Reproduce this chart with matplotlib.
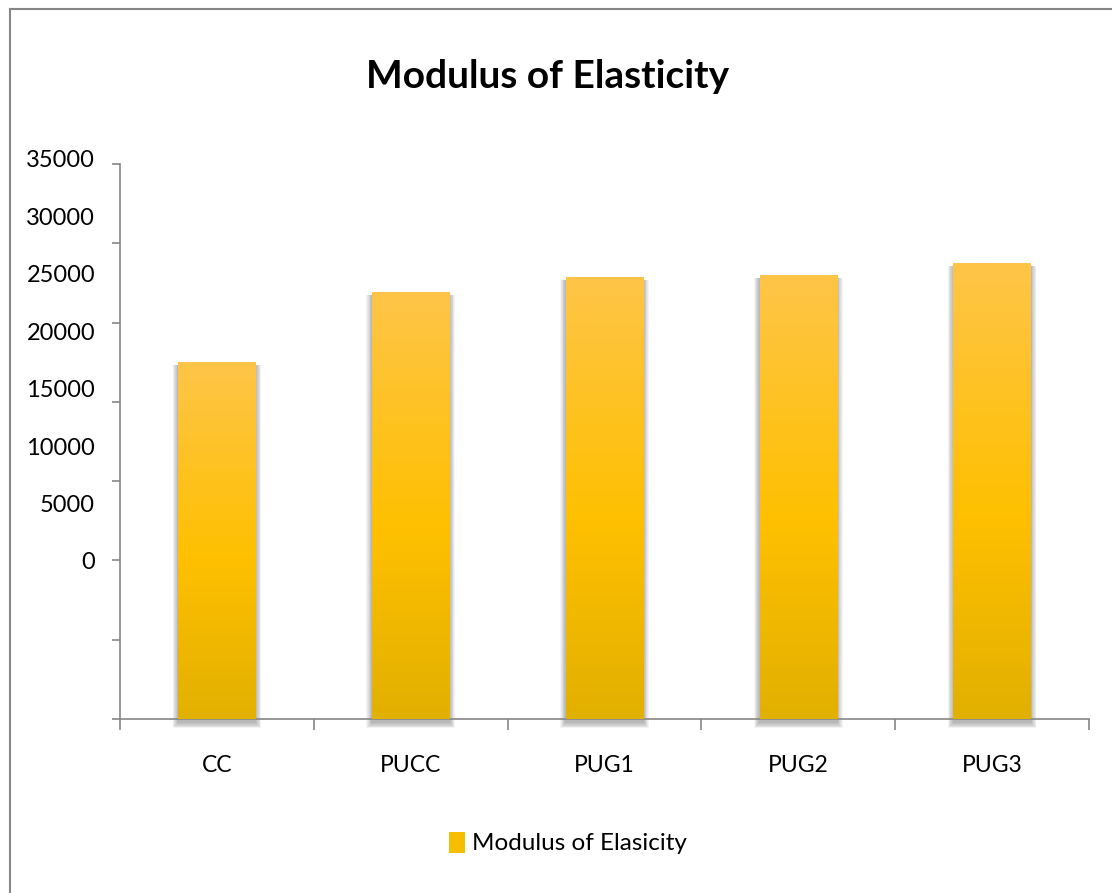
import numpy as np
import matplotlib
matplotlib.use("Agg")
import matplotlib.pyplot as plt
from matplotlib.patches import Rectangle, Patch
from matplotlib.colors import LinearSegmentedColormap
from matplotlib.lines import Line2D

# Modulus of elasticity per mix
categories = ["CC", "PUCC", "PUG1", "PUG2", "PUG3"]
modulus = [22500, 26900, 27900, 28000, 28750]
tick_values = [0, 5000, 10000, 15000, 20000, 25000, 30000, 35000]
tick_labels = ["0", "5000", "10000", "15000", "20000", "25000", "30000", "35000"]

# where the value labels sit on the axis scale (they do not line up with the ticks)
LABEL_BASE = 9838
LABEL_STEP = 0.7244

plt.rcParams["font.family"] = ["Lato", "DejaVu Sans"]

W, H = 1112, 893
fig = plt.figure(figsize=(W / 100, H / 100), dpi=100)
fig.patch.set_facecolor("white")

ax_l, ax_r, ax_t, ax_b = 120, 1089, 164, 719
ax = fig.add_axes([ax_l / W, 1 - ax_b / H, (ax_r - ax_l) / W, (ax_b - ax_t) / H])
ax.set_xlim(-0.5, len(categories) - 0.5)
ax.set_ylim(0, 35000)

grey = "#868686"
for side in ("top", "right"):
    ax.spines[side].set_visible(False)
for side in ("left", "bottom"):
    ax.spines[side].set_color(grey)
    ax.spines[side].set_linewidth(1.2)

ax.set_yticks(tick_values)
ax.set_yticklabels([])
ax.tick_params(axis="y", direction="out", length=6, width=1.2, color=grey)
ax.set_xticks(np.arange(-0.5, len(categories), 1.0))
ax.set_xticklabels([])
ax.tick_params(axis="x", direction="out", length=8, width=1.2, color=grey)

ytrans = ax.get_yaxis_transform()
for v, lab in zip(tick_values, tick_labels):
    ax.text(-25 / (ax_r - ax_l), LABEL_BASE + v * LABEL_STEP, lab, transform=ytrans,
            ha="right", va="center", fontsize=17, color="black", clip_on=False)

xtrans = ax.get_xaxis_transform()
for i, c in enumerate(categories):
    ax.text(i, -46 / (ax_b - ax_t), c, transform=xtrans, ha="center", va="center",
            fontsize=16.5, color="black", clip_on=False)

# gold gradient, lighter at the top and darker at the base
gold = LinearSegmentedColormap.from_list(
    "gold", [(0.0, "#E2B000"), (0.45, "#FFC000"), (1.0, "#FEC548")])
grad = np.linspace(0, 1, 256).reshape(-1, 1)

bar_w = 0.40
px_x = 1.0 / 194.0
px_y = 35000 / (ax_b - ax_t)
for i, val in enumerate(modulus):
    x0 = i - bar_w / 2
    # soft drop shadow
    for k in range(1, 8):
        sh = Rectangle((x0 - k * px_x * 0.8, -k * px_y * 0.9 - 3 * px_y),
                       bar_w + 1.6 * k * px_x, val + k * px_y * 0.9,
                       facecolor="black", edgecolor="none", alpha=0.045, zorder=1,
                       clip_on=False)
        ax.add_patch(sh)
    rect = Rectangle((x0, 0), bar_w, val, facecolor="none", edgecolor="none", zorder=3)
    ax.add_patch(rect)
    im = ax.imshow(grad, cmap=gold, aspect="auto", origin="lower",
                   extent=(x0, x0 + bar_w, 0, val), zorder=3)
    im.set_clip_path(rect)

ax.set_xlim(-0.5, len(categories) - 0.5)
ax.set_ylim(0, 35000)

fig.text(548 / W, 1 - 77 / H, "Modulus of Elasticity", ha="center", va="center",
         fontsize=28, fontweight="bold", color="black")

handle = Patch(facecolor="#F7BE00", edgecolor="none")
fig.legend([handle], ["Modulus of Elasicity"], loc="center",
           bbox_to_anchor=(568 / W, 1 - 843 / H), frameon=False, fontsize=17.5,
           handlelength=0.66, handleheight=0.95, handletextpad=0.3)

# chart area border (left and top edges)
fig.add_artist(Line2D([10 / W, 10 / W], [0, 1 - 9 / H], transform=fig.transFigure,
                      color=grey, linewidth=1.5))
fig.add_artist(Line2D([10 / W, 1], [1 - 9 / H, 1 - 9 / H], transform=fig.transFigure,
                      color=grey, linewidth=1.5))

fig.savefig("out.png", dpi=100)
